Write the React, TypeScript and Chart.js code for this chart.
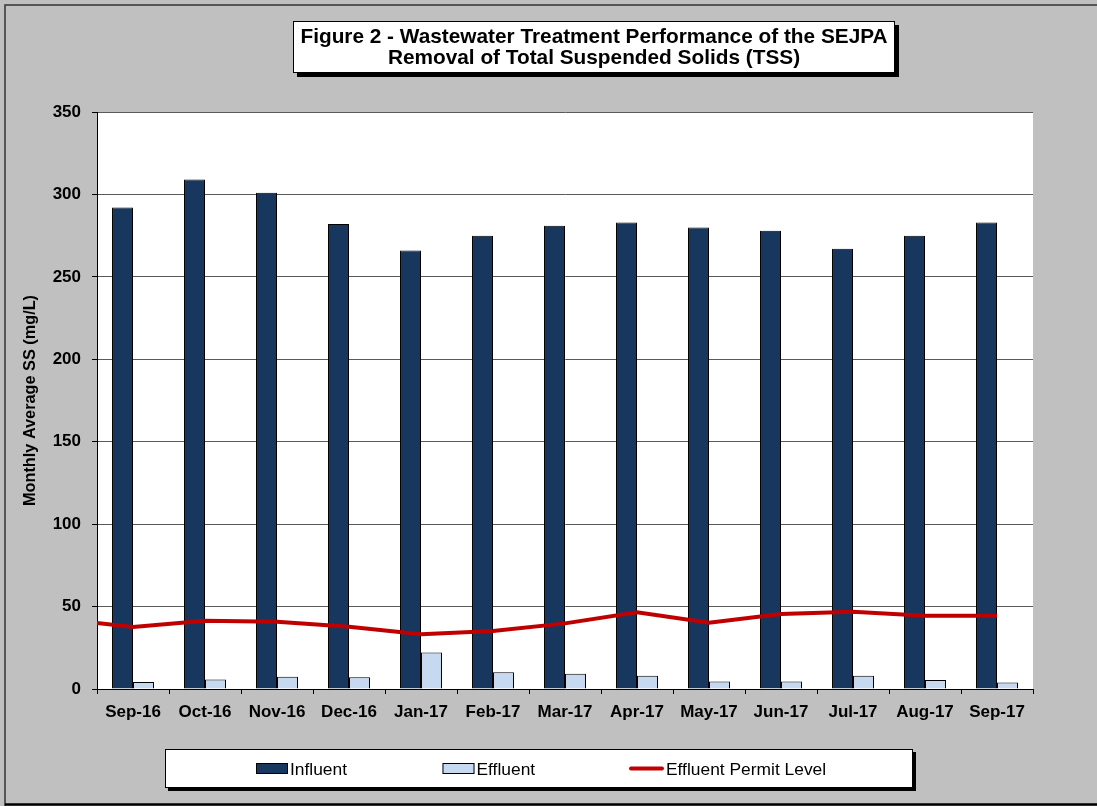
import React, { useEffect, useRef } from 'react';
import { Chart, registerables } from 'chart.js';

Chart.register(...registerables);

// ---------- data ----------
const months = ['Sep-16', 'Oct-16', 'Nov-16', 'Dec-16', 'Jan-17', 'Feb-17', 'Mar-17', 'Apr-17', 'May-17', 'Jun-17', 'Jul-17', 'Aug-17', 'Sep-17'];
const influent = [292, 309, 301, 282, 266, 275, 281, 283, 280, 278, 267, 275, 283];
const effluent = [4.2, 5.7, 7.5, 7.1, 22.2, 10.1, 9.3, 8.1, 4.6, 4.6, 8.1, 5.5, 4.0];
const permitLevel = [37.6, 41.4, 40.8, 37.8, 33.2, 35.2, 39.8, 46.5, 40.2, 45.5, 46.9, 44.5, 44.5];
// preceding month's permit level: lies left of the plot and is clipped at its edge
const permitLevelBefore = 42.4;

const yMin = 0;
const yMax = 350;
const yStep = 50;

const titleLines = [
  'Figure 2 - Wastewater Treatment Performance of the SEJPA',
  'Removal of Total Suspended Solids (TSS)',
];
const yAxisTitle = 'Monthly Average SS (mg/L)';
const seriesLabels = ['Influent', 'Effluent', 'Effluent Permit Level'];
const seriesColors = ['#17375E', '#C6D9F1', '#C00000'];

// ---------- styling ----------
const FONT = '"Liberation Sans", Arial, Helvetica, sans-serif';

function shadowBox(ctx: CanvasRenderingContext2D, x: number, y: number, w: number, h: number, off: number) {
  ctx.fillStyle = '#000';
  ctx.fillRect(x + off, y + off, w, h);
  ctx.fillStyle = '#fff';
  ctx.fillRect(x, y, w, h);
  ctx.strokeStyle = '#000';
  ctx.lineWidth = 1;
  ctx.strokeRect(x + 0.5, y + 0.5, w - 1, h - 1);
}

const decorPlugin = {
  id: 'decor',
  beforeDraw(chart: any) {
    const { ctx, width, height, chartArea: a } = chart;
    ctx.save();
    ctx.fillStyle = '#C0C0C0';
    ctx.fillRect(0, 0, width, height);
    // outer frame
    ctx.strokeStyle = '#333';
    ctx.lineWidth = 1.5;
    ctx.beginPath();
    ctx.moveTo(5, height);
    ctx.lineTo(5, 5);
    ctx.lineTo(width + 5, 5);
    ctx.stroke();
    ctx.strokeStyle = '#000';
    ctx.lineWidth = 2.5;
    ctx.beginPath();
    ctx.moveTo(5, 804.5);
    ctx.lineTo(width + 5, 804.5);
    ctx.stroke();
    // plot area
    ctx.fillStyle = '#fff';
    ctx.fillRect(a.left, a.top, a.right - a.left, a.bottom - a.top);
    ctx.restore();
  },
  afterDraw(chart: any) {
    const { ctx } = chart;
    ctx.save();
    // title box
    shadowBox(ctx, 293, 21, 602, 52, 4);
    ctx.fillStyle = '#000';
    ctx.font = `bold 20.8px ${FONT}`;
    ctx.textAlign = 'center';
    ctx.textBaseline = 'alphabetic';
    ctx.fillText(titleLines[0], 594, 43);
    ctx.fillText(titleLines[1], 594, 64);

    // legend box
    shadowBox(ctx, 165, 749, 748, 39, 3);
    ctx.font = `17.4px ${FONT}`;
    ctx.textAlign = 'left';
    const ds = chart.data.datasets;
    const slotStart = 256;
    const slotW = 186.5;
    ds.forEach((d: any, i: number) => {
      const mx = slotStart + i * slotW;
      let tx;
      if (d.type === 'line') {
        ctx.strokeStyle = d.borderColor;
        ctx.lineWidth = 4;
        ctx.lineCap = 'round';
        ctx.beginPath();
        ctx.moveTo(mx + 2, 768.5);
        ctx.lineTo(mx + 33, 768.5);
        ctx.stroke();
        tx = mx + 37;
      } else {
        ctx.fillStyle = d.backgroundColor;
        ctx.fillRect(mx, 763, 32, 11);
        ctx.strokeStyle = '#000';
        ctx.lineWidth = 1;
        ctx.strokeRect(mx + 0.5, 763.5, 31, 10);
        tx = mx + 34;
      }
      ctx.fillStyle = '#000';
      ctx.fillText(d.label, tx, 775);
    });
    ctx.restore();
  },
};

export default function App() {
  const ref = useRef<HTMLCanvasElement>(null);

  useEffect(() => {
    document.body.style.margin = '0';
    document.body.style.background = '#C0C0C0';
    document.documentElement.style.overflow = 'hidden';
    const toPoints = (arr: number[]) => arr.map((y, i) => ({ x: i, y }));
    const lineData = [{ x: -1, y: permitLevelBefore }, ...toPoints(permitLevel)];
    const tickFont = { family: FONT, size: 17, weight: 'bold' as const };
    const chart = new Chart(ref.current!, {
      type: 'bar',
      data: {
        datasets: [
          {
            type: 'bar',
            label: seriesLabels[0],
            data: toPoints(influent) as any,
            backgroundColor: seriesColors[0],
            borderColor: '#000',
            borderWidth: 1,
            categoryPercentage: 0.583,
            barPercentage: 1,
            order: 1,
          },
          {
            type: 'bar',
            label: seriesLabels[1],
            data: toPoints(effluent) as any,
            backgroundColor: seriesColors[1],
            borderColor: '#000',
            borderWidth: 1,
            categoryPercentage: 0.583,
            barPercentage: 1,
            order: 1,
          },
          {
            type: 'line',
            label: seriesLabels[2],
            data: lineData as any,
            borderColor: seriesColors[2],
            backgroundColor: seriesColors[2],
            borderWidth: 4,
            pointRadius: 0,
            tension: 0,
            fill: false,
            order: 0,
          } as any,
        ],
      },
      options: {
        responsive: false,
        animation: false,
        events: [],
        layout: { padding: { left: 0, right: 64, top: 112, bottom: 77 } },
        plugins: {
          legend: { display: false },
          tooltip: { enabled: false },
          title: { display: false },
        },
        scales: {
          x: {
            type: 'linear',
            offset: false,
            min: -0.5,
            max: months.length - 0.5,
            afterBuildTicks(s: any) {
              s.ticks = months.map((_, i) => ({ value: i }));
            },
            grid: {
              offset: true,
              drawOnChartArea: false,
              drawTicks: true,
              tickLength: 5,
              tickColor: '#000',
            },
            border: { color: '#000', width: 1 },
            ticks: {
              color: '#000',
              font: tickFont,
              padding: 8,
              maxRotation: 0,
              autoSkip: false,
              callback: (v: any) => months[v] ?? '',
            },
            afterFit(s: any) {
              s.height = 40;
            },
          },
          y: {
            type: 'linear',
            min: yMin,
            max: yMax,
            ticks: { stepSize: yStep, color: '#000', font: tickFont, padding: 11 },
            grid: { color: '#5a5a5a', tickColor: '#000', tickLength: 5 },
            border: { color: '#000', width: 1 },
            title: {
              display: true,
              text: yAxisTitle,
              color: '#000',
              font: { family: FONT, size: 16.3, weight: 'bold' },
              padding: { top: 21, bottom: 0 },
            },
            afterFit(s: any) {
              s.width = 97;
            },
          },
        },
      } as any,
      plugins: [decorPlugin],
    });
    return () => chart.destroy();
  }, []);

  return (
    <div style={{ position: 'fixed', left: 0, top: 0, width: 1097, height: 806, overflow: 'hidden', background: '#C0C0C0' }}>
      <canvas ref={ref} width={1097} height={806} style={{ display: 'block' }} />
    </div>
  );
}
